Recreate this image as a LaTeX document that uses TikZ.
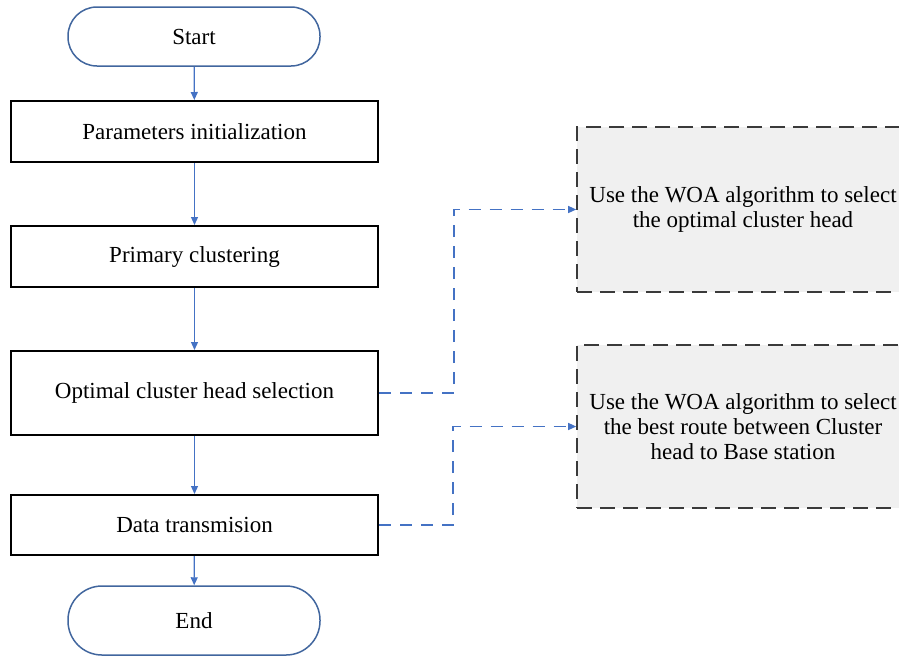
\documentclass[tikz,border=0pt]{standalone}
\usepackage{fontspec}
\setmainfont{Liberation Serif}
\newfontfamily\tnrfont{Liberation Serif}
\usetikzlibrary{arrows.meta}
\definecolor{flowblue}{HTML}{4472C4}
\definecolor{termblue}{HTML}{41669E}
\definecolor{boxgray}{HTML}{F0F0F0}
\definecolor{dashgray}{HTML}{3A3A3A}
\tikzset{
  txt/.style={font=\tnrfont\fontsize{23}{25}\selectfont},
  procbox/.style={txt, draw=black, line width=2pt, rectangle, minimum width=367pt, inner sep=0pt},
  termbox/.style={txt, draw=termblue, line width=1.5pt, rectangle, rounded corners=29pt, minimum width=252pt, minimum height=59pt, inner sep=0pt},
  notebox/.style={txt, draw=dashgray, fill=boxgray, line width=1.6pt, dash pattern=on 15pt off 8pt, rectangle, minimum width=332pt, inner sep=0pt, align=center},
  flowarrow/.style={draw=flowblue, line width=1.2pt, -{Triangle[length=8pt,width=7pt]}},
  linkarrow/.style={draw=flowblue, line width=1.2pt, dash pattern=on 12pt off 9pt, -{Triangle[length=8pt,width=7pt]}},
}
\begin{document}
\begin{tikzpicture}[x=1pt,y=-1pt]
\useasboundingbox (0,0) rectangle (899,657);
\clip (0,0) rectangle (899,657);
\node[termbox] (start) at (194,36.5) {Start};
\node[procbox, minimum height=61pt] (param) at (194.5,131.5) {Parameters initialization};
\node[procbox, minimum height=61pt] (prim) at (194.5,256.5) {Primary clustering};
\node[procbox, minimum height=84pt] (opt) at (194.5,393) {Optimal cluster head selection};
\node[procbox, minimum height=60pt] (data) at (194.5,525) {Data transmision};
\node[termbox, minimum height=69pt, rounded corners=34pt] (end) at (194,620.5) {End};
\node[notebox, minimum height=165pt] (woa1) at (743,209.5) {Use the WOA algorithm to select\\the optimal cluster head};
\node[notebox, minimum height=163pt] (woa2) at (743,426.5) {Use the WOA algorithm to select\\the best route between Cluster\\head to Base station};
\draw[flowarrow] (start) -- (param);
\draw[flowarrow] (param) -- (prim);
\draw[flowarrow] (prim) -- (opt);
\draw[flowarrow] (opt) -- (data);
\draw[flowarrow] (data) -- (end);
\draw[linkarrow] (opt.east) -- ([xshift=75pt]opt.east) |- (woa1.west);
\draw[linkarrow] (data.east) -- ([xshift=74pt]data.east) |- (woa2.west);
\end{tikzpicture}
\end{document}
